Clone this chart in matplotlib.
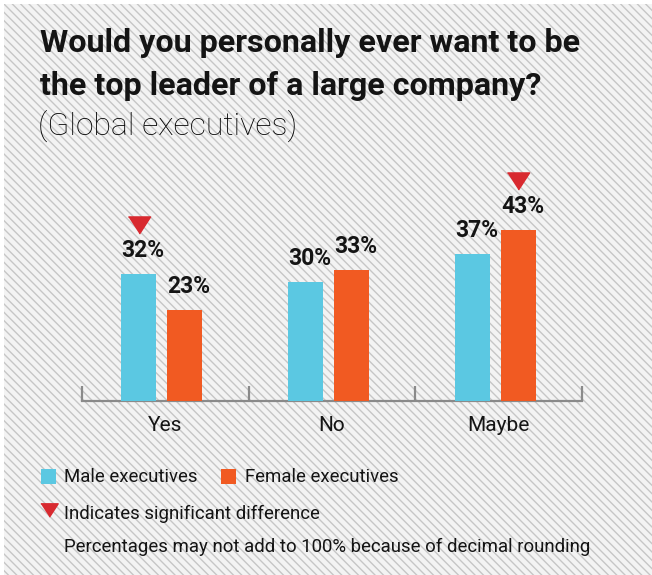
import matplotlib
matplotlib.use("Agg")
import matplotlib.pyplot as plt
from matplotlib.patches import Rectangle
import numpy as np

categories = ["Yes", "No", "Maybe"]
male = [32, 30, 37]
female = [23, 33, 43]
significant = ["male", None, "female"]
title_lines = ["Would you personally ever want to be", "the top leader of a large company?"]
subtitle = "(Global executives)"
legend_labels = ["Male executives", "Female executives"]
sig_note = "Indicates significant difference"
round_note = "Percentages may not add to 100% because of decimal rounding"

BLUE = "#5BC8E2"
ORANGE = "#F15A22"
RED = "#D8292F"
TXT = "#141414"
FONT = "Roboto"

W, H = 652, 575
plt.rcParams["hatch.linewidth"] = 1.0
plt.rcParams["hatch.color"] = "#c6c6c6"
fig = plt.figure(figsize=(W / 100, H / 100), dpi=100)
fig.patch.set_facecolor("white")

def fx(x):
    return x / W

def fy(y):
    return 1 - y / H

# hatched background
bg = Rectangle((fx(4), 0), 1 - fx(4), fy(4), transform=fig.transFigure,
               facecolor="#f3f3f3", edgecolor="#c6c6c6", hatch="\\" * 4,
               linewidth=0, zorder=-10)
fig.patches.append(bg)

# axes: baseline at y=401px, ticks from x=82 to 582
scale = 3.97  # px per percent
ymax = 50
ax = fig.add_axes([fx(82), fy(401), 500 / W, ymax * scale / H])
ax.patch.set_alpha(0)
ax.set_xlim(-0.5, 2.5)
ax.set_ylim(0, ymax)
for s in ["top", "right", "left"]:
    ax.spines[s].set_visible(False)
ax.spines["bottom"].set_color("#8a8a8a")
ax.spines["bottom"].set_linewidth(1.6)
ax.set_yticks([])

x = np.arange(len(categories)) - 0.02
bw = 0.21
off = 0.138
ax.bar(x - off, male, bw, color=BLUE, zorder=3)
ax.bar(x + off, female, bw, color=ORANGE, zorder=3)

# ticks at boundaries
for b in [-0.5, 0.5, 1.5, 2.5]:
    ax.plot([b, b], [0, 15 / scale], color="#8a8a8a", lw=1.6, clip_on=False,
            solid_capstyle="butt")
ax.set_xticks(np.arange(len(categories)))
ax.set_xticklabels(categories, fontsize=15, family=FONT, color=TXT)
ax.tick_params(axis="x", length=0, pad=11)

for xi, v in zip(x - off, male):
    ax.annotate(f"{v}%", (xi, v), xytext=(3, 8.5), textcoords="offset points",
                ha="center", va="bottom", fontsize=16.5, fontweight="bold",
                family=FONT, color=TXT)
for xi, v in zip(x + off, female):
    ax.annotate(f"{v}%", (xi, v), xytext=(3, 8.5), textcoords="offset points",
                ha="center", va="bottom", fontsize=16.5, fontweight="bold",
                family=FONT, color=TXT)

tri = [(-1, 0.77), (1, 0.77), (0, -0.77)]
for i, s in enumerate(significant):
    if s is None:
        continue
    xi = x[i] - off if s == "male" else x[i] + off
    v = male[i] if s == "male" else female[i]
    ax.plot([xi], [v + 49 / scale], marker=tri, ms=16, color=RED,
            linestyle="none", clip_on=False)

# titles
fig.text(fx(40), fy(52), title_lines[0], fontsize=23.2, fontweight="bold",
         family=FONT, color=TXT, va="baseline")
fig.text(fx(40), fy(95), title_lines[1], fontsize=23.2, fontweight="bold",
         family=FONT, color=TXT, va="baseline")
fig.text(fx(38), fy(135), subtitle, fontsize=23, fontweight="light",
         family=FONT, color="#000000", va="baseline")

# legend
fig.patches.append(Rectangle((fx(41), fy(484)), 15 / W, 15 / H,
                             transform=fig.transFigure, facecolor=BLUE, lw=0))
fig.text(fx(64), fy(482), legend_labels[0], fontsize=13.4, family=FONT,
         color=TXT, va="baseline")
fig.patches.append(Rectangle((fx(221), fy(484)), 15 / W, 15 / H,
                             transform=fig.transFigure, facecolor=ORANGE, lw=0))
fig.text(fx(245), fy(482), legend_labels[1], fontsize=13.4, family=FONT,
         color=TXT, va="baseline")
fig.lines.append(plt.Line2D([fx(48.5)], [fy(510)], marker=tri, ms=12.5,
                            color=RED, linestyle="none",
                            transform=fig.transFigure))
fig.text(fx(64), fy(519), sig_note, fontsize=13.4, family=FONT,
         color=TXT, va="baseline")
fig.text(fx(64), fy(552), round_note, fontsize=13.4, family=FONT,
         color=TXT, va="baseline")

fig.savefig("out.png", dpi=100)
